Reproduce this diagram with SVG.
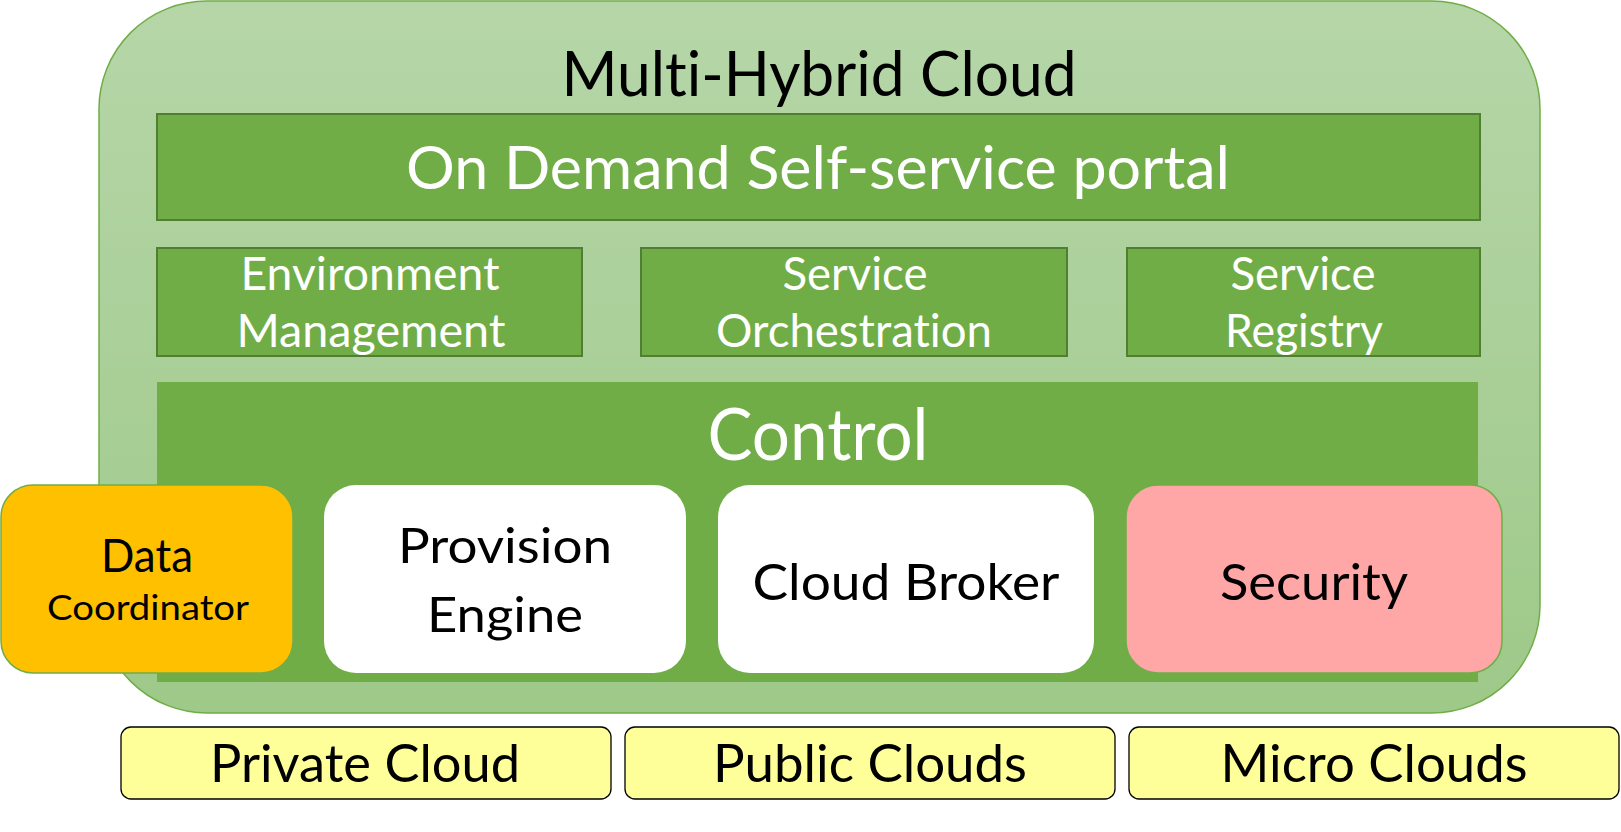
<svg xmlns="http://www.w3.org/2000/svg" width="1621" height="832" viewBox="0 0 1621 832">
<defs>
<linearGradient id="outerGrad" x1="0" y1="0" x2="0" y2="1">
<stop offset="0" stop-color="#b6d6a8"/>
<stop offset="1" stop-color="#9ec989"/>
</linearGradient>
<style>
text{font-family:Lato,"Open Sans","Liberation Sans",sans-serif;text-anchor:middle;font-variant-ligatures:none;font-feature-settings:"liga" 0,"clig" 0,"dlig" 0}
.w{fill:#ffffff}
.k{fill:#000000}
.band{fill:#70ad47;stroke:#507e32;stroke-width:2}
.ctrl{fill:#70ad47}
.comp{stroke:#70ad47;stroke-width:1.5}
.cloud{fill:#ffff99;stroke:#000000;stroke-width:1.3}
</style>
</defs>
<g id="multi-hybrid-cloud">
<rect x="99" y="1" width="1441" height="712" rx="108" ry="108" fill="url(#outerGrad)" stroke="#70ad47" stroke-width="1.5"/>
<text class="k" x="819" y="96" font-size="62" textLength="515" lengthAdjust="spacingAndGlyphs">Multi-Hybrid Cloud</text>
</g>
<g id="portal">
<rect class="band" x="157" y="114" width="1323" height="106"/>
<text class="w" x="818" y="189" font-size="60" textLength="824" lengthAdjust="spacingAndGlyphs">On Demand Self-service portal</text>
</g>
<g id="environment-management">
<rect class="band" x="157" y="248" width="425" height="108"/>
<text class="w" x="370" y="290" font-size="46" textLength="259" lengthAdjust="spacingAndGlyphs">Environment</text>
<text class="w" x="371" y="347" font-size="46" textLength="269" lengthAdjust="spacingAndGlyphs">Management</text>
</g>
<g id="service-orchestration">
<rect class="band" x="641" y="248" width="426" height="108"/>
<text class="w" x="855" y="290" font-size="46" textLength="145" lengthAdjust="spacingAndGlyphs">Service</text>
<text class="w" x="854" y="347" font-size="46" textLength="276" lengthAdjust="spacingAndGlyphs">Orchestration</text>
</g>
<g id="service-registry">
<rect class="band" x="1127" y="248" width="353" height="108"/>
<text class="w" x="1303" y="290" font-size="46" textLength="145" lengthAdjust="spacingAndGlyphs">Service</text>
<text class="w" x="1304" y="347" font-size="46" textLength="158" lengthAdjust="spacingAndGlyphs">Registry</text>
</g>
<g id="control">
<rect class="ctrl" x="157" y="382" width="1321" height="300"/>
<text class="w" x="818" y="460" font-size="72" textLength="221" lengthAdjust="spacingAndGlyphs">Control</text>
</g>
<g id="data-coordinator">
<rect class="comp" x="1" y="485" width="292" height="188" rx="32" ry="32" fill="#ffc000"/>
<text class="k" x="147" y="572" font-size="46" textLength="92" lengthAdjust="spacingAndGlyphs">Data</text>
<text class="k" x="148" y="620" font-size="34" textLength="202" lengthAdjust="spacingAndGlyphs">Coordinator</text>
</g>
<g id="provision-engine">
<rect x="324" y="485" width="362" height="188" rx="32" ry="32" fill="#ffffff"/>
<text class="k" x="505" y="563" font-size="48" textLength="214" lengthAdjust="spacingAndGlyphs">Provision</text>
<text class="k" x="505" y="632" font-size="48" textLength="156" lengthAdjust="spacingAndGlyphs">Engine</text>
</g>
<g id="cloud-broker">
<rect x="718" y="485" width="376" height="188" rx="32" ry="32" fill="#ffffff"/>
<text class="k" x="906" y="600" font-size="50" textLength="307" lengthAdjust="spacingAndGlyphs">Cloud Broker</text>
</g>
<g id="security">
<rect class="comp" x="1126" y="485" width="376" height="188" rx="32" ry="32" fill="#ffa6a6"/>
<text class="k" x="1314" y="600" font-size="50" textLength="188" lengthAdjust="spacingAndGlyphs">Security</text>
</g>
<g id="private-cloud">
<rect class="cloud" x="121" y="727" width="490" height="72" rx="10" ry="10"/>
<text class="k" x="365" y="782" font-size="53" textLength="310" lengthAdjust="spacingAndGlyphs">Private Cloud</text>
</g>
<g id="public-clouds">
<rect class="cloud" x="625" y="727" width="490" height="72" rx="10" ry="10"/>
<text class="k" x="870" y="782" font-size="53" textLength="314" lengthAdjust="spacingAndGlyphs">Public Clouds</text>
</g>
<g id="micro-clouds">
<rect class="cloud" x="1129" y="727" width="490" height="72" rx="10" ry="10"/>
<text class="k" x="1374" y="782" font-size="53" textLength="307" lengthAdjust="spacingAndGlyphs">Micro Clouds</text>
</g>
<g id="connectors"/>
</svg>
